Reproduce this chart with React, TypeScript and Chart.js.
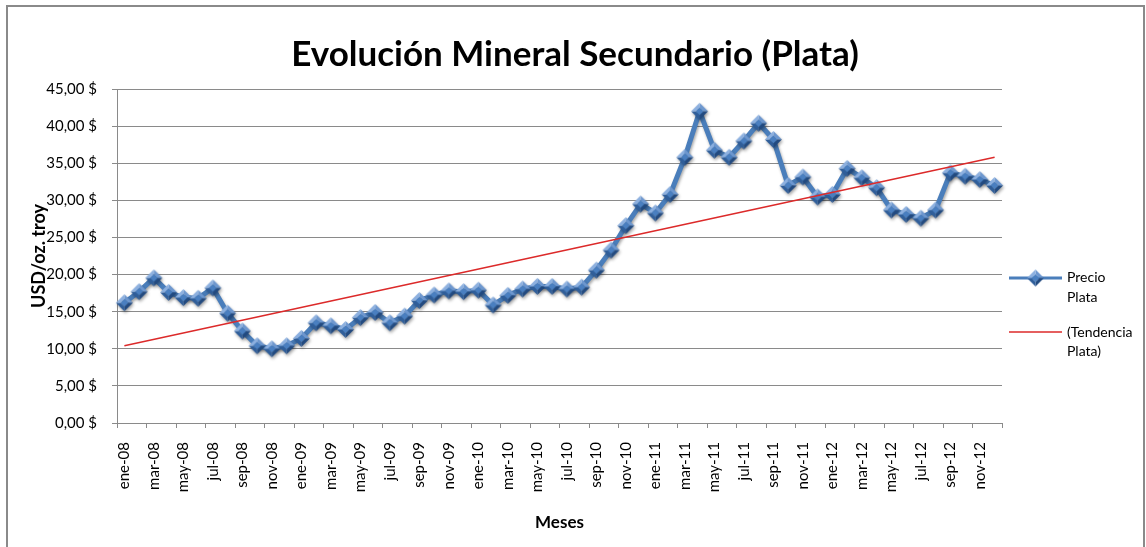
import React, { useEffect, useRef } from 'react';
import { Chart, registerables } from 'chart.js';

Chart.register(...registerables);

const TITLE = 'Evolución Mineral Secundario (Plata)';
const Y_TITLE = 'USD/oz. troy';
const X_TITLE = 'Meses';
const SERIES_NAME = ['Precio', 'Plata'];
const TREND_NAME = ['(Tendencia', 'Plata)'];

const CATEGORIES = [
  'ene-08', 'feb-08', 'mar-08', 'abr-08', 'may-08', 'jun-08', 'jul-08', 'ago-08', 'sep-08', 'oct-08', 'nov-08', 'dic-08',
  'ene-09', 'feb-09', 'mar-09', 'abr-09', 'may-09', 'jun-09', 'jul-09', 'ago-09', 'sep-09', 'oct-09', 'nov-09', 'dic-09',
  'ene-10', 'feb-10', 'mar-10', 'abr-10', 'may-10', 'jun-10', 'jul-10', 'ago-10', 'sep-10', 'oct-10', 'nov-10', 'dic-10',
  'ene-11', 'feb-11', 'mar-11', 'abr-11', 'may-11', 'jun-11', 'jul-11', 'ago-11', 'sep-11', 'oct-11', 'nov-11', 'dic-11',
  'ene-12', 'feb-12', 'mar-12', 'abr-12', 'may-12', 'jun-12', 'jul-12', 'ago-12', 'sep-12', 'oct-12', 'nov-12', 'dic-12',
];

const PRECIO_PLATA = [
  16.2, 17.7, 19.55, 17.6, 16.9, 16.8, 18.2, 14.8, 12.4, 10.4, 10.0, 10.4,
  11.4, 13.5, 13.1, 12.6, 14.2, 14.9, 13.5, 14.4, 16.5, 17.25, 17.8, 17.7,
  17.9, 15.9, 17.2, 18.05, 18.4, 18.4, 18.05, 18.3, 20.6, 23.3, 26.6, 29.5,
  28.3, 30.8, 35.8, 42.0, 36.75, 35.8, 38.0, 40.4, 38.2, 32.0, 33.15, 30.45,
  30.8, 34.3, 33.05, 31.7, 28.7, 28.1, 27.6, 28.7, 33.7, 33.25, 32.8, 32.0,
];

// trend line values at the first and last month
const TENDENCIA_EXTREMOS = [10.4, 35.8];

const Y_MIN = 0;
const Y_MAX = 45;
const Y_STEP = 5;

const FONT = 'Lato, "Open Sans", sans-serif';
const BLUE = '#4a7ebb';
const RED = '#dc2a2a';
const GRID = '#8a8a8a';

function makeDiamond(R: number): HTMLCanvasElement {
  const s = Math.ceil(R * 2) + 2;
  const c = document.createElement('canvas');
  c.width = s;
  c.height = s;
  const g = c.getContext('2d')!;
  const cx = s / 2;
  const cy = s / 2;
  const r = R * 0.45;
  const O = [[cx, cy - R], [cx + R, cy], [cx, cy + R], [cx - R, cy]];
  const I = [[cx, cy - r], [cx + r, cy], [cx, cy + r], [cx - r, cy]];
  // upper-right, lower-right, lower-left, upper-left
  const facets = ['#6d97cf', '#224a80', '#2f5e9a', '#8cb0e0'];
  for (let k = 0; k < 4; k++) {
    const n = (k + 1) % 4;
    g.beginPath();
    g.moveTo(O[k][0], O[k][1]);
    g.lineTo(O[n][0], O[n][1]);
    g.lineTo(I[n][0], I[n][1]);
    g.lineTo(I[k][0], I[k][1]);
    g.closePath();
    g.fillStyle = facets[k];
    g.fill();
  }
  g.beginPath();
  g.moveTo(I[0][0], I[0][1]);
  for (let k = 1; k < 4; k++) g.lineTo(I[k][0], I[k][1]);
  g.closePath();
  g.fillStyle = '#4a7fc0';
  g.fill();
  return c;
}

export default function App() {
  const ref = useRef<HTMLCanvasElement | null>(null);

  useEffect(() => {
    const canvas = ref.current;
    if (!canvas) return;
    const diamond = makeDiamond(8.5);
    const last = CATEGORIES.length - 1;
    const trendData = CATEGORIES.map((_, i) =>
      i === 0 ? TENDENCIA_EXTREMOS[0] : i === last ? TENDENCIA_EXTREMOS[1] : null
    );

    const shadowPlugin = {
      id: 'shadowPlugin',
      beforeDatasetDraw(chart: any, args: any) {
        if (args.index === 0) {
          const ctx = chart.ctx;
          ctx.save();
          ctx.shadowColor = 'rgba(0,0,0,0.35)';
          ctx.shadowBlur = 3;
          ctx.shadowOffsetX = 1;
          ctx.shadowOffsetY = 2;
        }
      },
      afterDatasetDraw(chart: any, args: any) {
        if (args.index === 0) chart.ctx.restore();
      },
    };

    const decorPlugin = {
      id: 'decor',
      afterDraw(chart: any) {
        const ctx = chart.ctx;
        ctx.save();
        // title
        ctx.fillStyle = '#000';
        ctx.font = `bold 35px ${FONT}`;
        ctx.textAlign = 'center';
        ctx.textBaseline = 'middle';
        ctx.fillText(TITLE, 575, 55);
        // legend: series
        ctx.strokeStyle = BLUE;
        ctx.lineWidth = 3;
        ctx.beginPath();
        ctx.moveTo(1009, 278);
        ctx.lineTo(1062, 278);
        ctx.stroke();
        ctx.drawImage(diamond, 1035.5 - diamond.width / 2, 278 - diamond.height / 2);
        // legend: trend
        ctx.strokeStyle = RED;
        ctx.lineWidth = 1.5;
        ctx.beginPath();
        ctx.moveTo(1009, 332);
        ctx.lineTo(1062, 332);
        ctx.stroke();
        ctx.fillStyle = '#000';
        ctx.font = `14px ${FONT}`;
        ctx.textBaseline = 'middle';
        ctx.textAlign = 'left';
        ctx.fillText(SERIES_NAME[0], 1067, 277);
        ctx.fillText(SERIES_NAME[1], 1067, 297);
        ctx.fillText(TREND_NAME[0], 1067, 332);
        ctx.fillText(TREND_NAME[1], 1067, 351);
        ctx.restore();
      },
    };

    const chart = new Chart(canvas, {
      type: 'line',
      data: {
        labels: CATEGORIES,
        datasets: [
          {
            label: SERIES_NAME.join(' '),
            data: PRECIO_PLATA,
            borderColor: BLUE,
            backgroundColor: BLUE,
            borderWidth: 5,
            borderJoinStyle: 'round',
            borderCapStyle: 'round',
            tension: 0,
            pointStyle: diamond as any,
            pointRadius: 8,
            pointHoverRadius: 8,
            order: 1,
          },
          {
            label: TREND_NAME.join(' '),
            data: trendData,
            borderColor: RED,
            backgroundColor: RED,
            borderWidth: 1.5,
            pointRadius: 0,
            spanGaps: true,
            tension: 0,
            order: 0,
          },
        ],
      },
      options: {
        animation: false,
        responsive: false,
        events: [],
        layout: { padding: { top: 89, left: 0, right: 144, bottom: 0 } },
        plugins: {
          legend: { display: false },
          tooltip: { enabled: false },
          title: { display: false },
        },
        scales: {
          x: {
            type: 'category',
            offset: true,
            afterFit(scale: any) {
              scale.height = 124;
            },
            grid: {
              offset: true,
              drawOnChartArea: false,
              drawTicks: true,
              tickLength: 5,
              color: (c: any) => (c.index === undefined || c.index % 2 === 0 ? GRID : 'rgba(0,0,0,0)'),
              tickColor: (c: any) => (c.index === undefined || c.index % 2 === 0 ? GRID : 'rgba(0,0,0,0)'),
            },
            border: { display: true, color: GRID, width: 1 },
            ticks: {
              autoSkip: false,
              minRotation: 90,
              maxRotation: 90,
              padding: 14,
              color: '#000',
              font: { family: FONT, size: 15 },
              callback: (_v: any, index: number) => (index % 2 === 0 ? CATEGORIES[index] : ''),
            },
            title: {
              display: true,
              text: X_TITLE,
              color: '#000',
              font: { family: FONT, size: 17, weight: 'bold', lineHeight: 1.2 },
              padding: { top: 0, bottom: 14 },
            },
          },
          y: {
            min: Y_MIN,
            max: Y_MAX,
            afterFit(scale: any) {
              scale.width = 117;
            },
            grid: {
              color: GRID,
              tickColor: GRID,
              drawTicks: true,
              tickLength: 5,
              lineWidth: 1,
            },
            border: { display: true, color: GRID, width: 1 },
            ticks: {
              stepSize: Y_STEP,
              padding: 15,
              color: '#000',
              font: { family: FONT, size: 15 },
              callback: (v: any) => `${Number(v).toFixed(2).replace('.', ',')} $`,
            },
            title: {
              display: true,
              text: Y_TITLE,
              color: '#000',
              font: { family: FONT, size: 18, weight: 'bold', lineHeight: 1.2 },
              padding: { top: 28, bottom: 0 },
            },
          },
        },
      },
      plugins: [shadowPlugin, decorPlugin],
    } as any);

    return () => chart.destroy();
  }, []);

  return (
    <div
      style={{
        position: 'absolute',
        left: 0,
        top: 0,
        width: 1146,
        height: 547,
        overflow: 'hidden',
        background: '#fff',
      }}
    >
      <canvas ref={ref} width={1146} height={547} style={{ width: 1146, height: 547, display: 'block' }} />
      <div
        style={{
          position: 'absolute',
          left: 6,
          top: 5,
          width: 1139,
          height: 600,
          boxSizing: 'border-box',
          border: '2px solid #8a8a8a',
          pointerEvents: 'none',
        }}
      />
    </div>
  );
}
